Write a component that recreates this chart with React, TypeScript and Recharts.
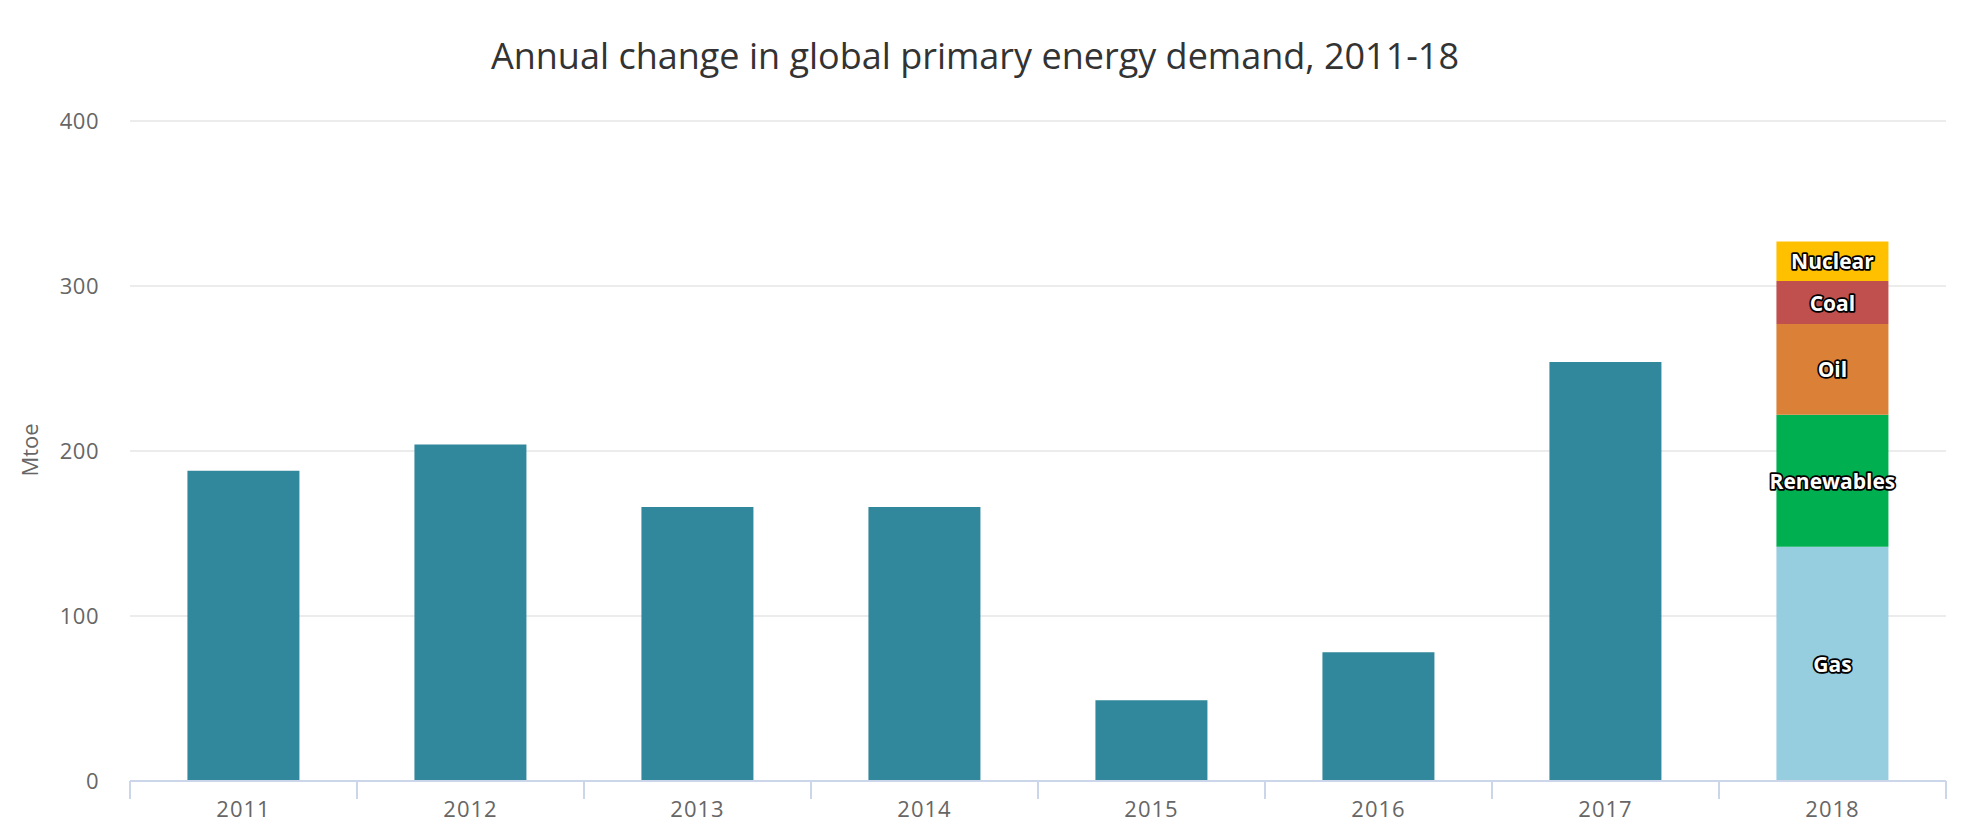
import React from 'react';
import { BarChart, Bar, XAxis, YAxis, CartesianGrid, LabelList } from 'recharts';

const years = ['2011', '2012', '2013', '2014', '2015', '2016', '2017', '2018'];
const totalChange: (number | null)[] = [188, 204, 166, 166, 49, 78, 254, null];
const fuels = ['Gas', 'Renewables', 'Oil', 'Coal', 'Nuclear'];
const fuelChange2018 = [142, 80, 55, 26, 24];
const fuelColors = ['#96CDDF', '#00AF50', '#DA8137', '#C0504D', '#FFC000'];
const yTicks = [0, 100, 200, 300, 400];

const data = years.map((year, i) => {
  const row: Record<string, any> = { year, total: totalChange[i] };
  if (year === '2018') {
    fuels.forEach((f, j) => {
      row[f] = fuelChange2018[j];
    });
  }
  return row;
});

const FONT = "'Open Sans', sans-serif";

const XTick = (props: any) => {
  const { x, y, payload, index } = props;
  const off = payload && payload.offset ? payload.offset : 0;
  return (
    <g>
      <line x1={x - off} x2={x - off} y1={y} y2={y + 18} stroke="#ccd6eb" strokeWidth={2} />
      {index === years.length - 1 && (
        <line x1={x + off} x2={x + off} y1={y} y2={y + 18} stroke="#ccd6eb" strokeWidth={2} />
      )}
      <text x={x} y={y + 36} textAnchor="middle" fill="#666666" fontSize={22} fontFamily={FONT} letterSpacing={1}>
        {payload.value}
      </text>
    </g>
  );
};

const makeLabel = (name: string) => (props: any) => {
  const { x, y, width, height, value } = props;
  if (value == null) return null;
  return (
    <text
      x={x + width / 2}
      y={y + height / 2}
      textAnchor="middle"
      dominantBaseline="central"
      fill="#ffffff"
      stroke="#000000"
      strokeWidth={3.5}
      strokeLinejoin="round"
      paintOrder="stroke"
      fontSize={21}
      fontWeight={700}
      fontFamily={FONT}
    >
      {name}
    </text>
  );
};

export default function App() {
  return (
    <div style={{ position: 'absolute', left: 0, top: 0, width: 1972, height: 840, background: '#ffffff' }}>
      <div
        style={{
          position: 'absolute',
          left: 0,
          top: 34,
          width: 1950,
          textAlign: 'center',
          fontFamily: FONT,
          fontSize: 36,
          fontWeight: 400,
          color: '#333333',
          lineHeight: '44px',
        }}
      >
        Annual change in global primary energy demand, 2011-18
      </div>
      <BarChart
        width={1972}
        height={840}
        data={data}
        margin={{ top: 121, right: 26, bottom: 19, left: 50 }}
        barCategoryGap="25.3%"
      >
        <CartesianGrid vertical={false} stroke="#e6e6e6" strokeWidth={1.5} />
        <XAxis
          dataKey="year"
          height={40}
          axisLine={{ stroke: '#ccd6eb', strokeWidth: 2 }}
          tickLine={false}
          tickSize={0}
          tickMargin={0}
          tick={<XTick />}
          interval={0}
        />
        <YAxis
          width={80}
          domain={[0, 400]}
          ticks={yTicks}
          axisLine={false}
          tickLine={false}
          tickSize={0}
          tickMargin={31}
          tick={{ fill: '#666666', fontSize: 22, fontFamily: FONT, letterSpacing: 0.5 }}
          label={{
            content: (p: any) => {
              const vb = p.viewBox;
              const cx = vb.x - 21;
              const cy = vb.y + vb.height / 2 - 1;
              return (
                <text
                  x={cx}
                  y={cy}
                  transform={`rotate(-90 ${cx} ${cy})`}
                  textAnchor="middle"
                  dominantBaseline="central"
                  fill="#666666"
                  fontSize={22}
                  fontFamily={FONT}
                >
                  Mtoe
                </text>
              );
            },
          }}
        />
        <Bar dataKey="total" stackId="s" fill="#31879B" isAnimationActive={false} />
        {fuels.map((f, j) => (
          <Bar key={f} dataKey={f} stackId="s" fill={fuelColors[j]} isAnimationActive={false}>
            <LabelList dataKey={f} content={makeLabel(f)} />
          </Bar>
        ))}
      </BarChart>
    </div>
  );
}
